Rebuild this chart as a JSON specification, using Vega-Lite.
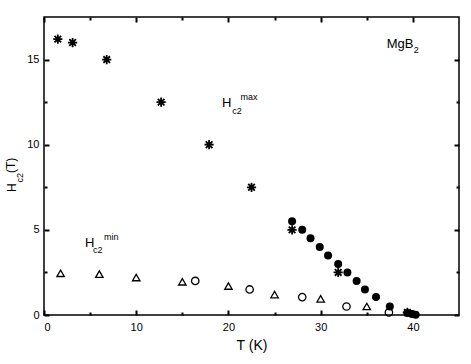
{
  "$schema": "https://vega.github.io/schema/vega-lite/v6.json",
  "width": 415,
  "height": 298,
  "autosize": {"type": "none"},
  "padding": {"left": 44, "top": 17, "right": 12, "bottom": 49},
  "background": "white",
  "config": {
    "view": {"stroke": "black", "strokeWidth": 1.5},
    "font": "Liberation Sans",
    "axis": {"domain": false, "grid": false, "labelColor": "black", "labelFont": "Liberation Sans", "labelFontSize": 11, "titleColor": "black", "titleFont": "Liberation Sans", "titleFontWeight": "normal"}
  },
  "datasets": {
    "points": [
      {"series": "star", "T": 1.5, "H": 16.2},
      {"series": "star", "T": 3.1, "H": 16.0},
      {"series": "star", "T": 6.8, "H": 15.0},
      {"series": "star", "T": 12.7, "H": 12.5},
      {"series": "star", "T": 17.9, "H": 10.0},
      {"series": "star", "T": 22.5, "H": 7.5},
      {"series": "star", "T": 26.9, "H": 5.0},
      {"series": "star", "T": 31.9, "H": 2.5},
      {"series": "star", "T": 39.4, "H": 0.15},
      {"series": "filled", "T": 26.9, "H": 5.5},
      {"series": "filled", "T": 28.0, "H": 5.0},
      {"series": "filled", "T": 28.9, "H": 4.5},
      {"series": "filled", "T": 29.9, "H": 4.0},
      {"series": "filled", "T": 30.8, "H": 3.5},
      {"series": "filled", "T": 31.9, "H": 3.0},
      {"series": "filled", "T": 32.9, "H": 2.5},
      {"series": "filled", "T": 33.9, "H": 2.0},
      {"series": "filled", "T": 34.8, "H": 1.5},
      {"series": "filled", "T": 36.0, "H": 1.05},
      {"series": "filled", "T": 37.5, "H": 0.5},
      {"series": "filled", "T": 39.4, "H": 0.12},
      {"series": "filled", "T": 39.9, "H": 0.06},
      {"series": "filled", "T": 40.3, "H": 0.02},
      {"series": "open", "T": 16.4, "H": 2.0},
      {"series": "open", "T": 22.3, "H": 1.5},
      {"series": "open", "T": 28.0, "H": 1.05},
      {"series": "open", "T": 32.8, "H": 0.5},
      {"series": "open", "T": 37.4, "H": 0.15},
      {"series": "triangle", "T": 1.8, "H": 2.45},
      {"series": "triangle", "T": 6.0, "H": 2.4},
      {"series": "triangle", "T": 10.0, "H": 2.2},
      {"series": "triangle", "T": 15.0, "H": 1.95},
      {"series": "triangle", "T": 20.0, "H": 1.7},
      {"series": "triangle", "T": 25.0, "H": 1.2},
      {"series": "triangle", "T": 30.0, "H": 0.95},
      {"series": "triangle", "T": 35.0, "H": 0.5}
    ],
    "bigText": [
      {"T": 19.3, "H": 12.19, "label": "H"},
      {"T": 4.44, "H": 3.98, "label": "H"},
      {"T": 37.16, "H": 15.7, "label": "MgB"}
    ],
    "smallText": [
      {"T": 20.4, "H": 11.83, "label": "c2"},
      {"T": 21.3, "H": 12.6, "label": "max"},
      {"T": 5.3, "H": 3.63, "label": "c2"},
      {"T": 6.5, "H": 4.39, "label": "min"},
      {"T": 40.1, "H": 15.4, "label": "2"}
    ],
    "bigRot": [
      {"T": -3.04, "H": 7.22, "label": "H"},
      {"T": -3.14, "H": 8.34, "label": "(T)"}
    ],
    "smallRot": [
      {"T": -2.33, "H": 7.78, "label": "c2"}
    ]
  },
  "resolve": {"axis": {"x": "independent", "y": "independent"}},
  "layer": [
    {
      "data": {"name": "points"},
      "transform": [{"filter": "datum.series === 'triangle'"}],
      "mark": {"type": "point", "shape": "triangle-up", "filled": false, "stroke": "black", "strokeWidth": 1.3, "size": 55, "opacity": 1},
      "encoding": {
        "x": {"field": "T", "type": "quantitative", "scale": {"domain": [0, 45], "nice": false, "zero": false},
          "axis": {"orient": "bottom", "title": "T (K)", "titleFontSize": 14, "titlePadding": 6,
            "values": [0, 10, 20, 30, 40], "labelPadding": 11,
            "tickSize": -5, "tickColor": "black", "tickWidth": 2}},
        "y": {"field": "H", "type": "quantitative", "scale": {"domain": [0, 17.5], "nice": false, "zero": false},
          "axis": {"orient": "left", "title": null,
            "values": [0, 5, 10, 15], "labelPadding": 10,
            "tickSize": -5, "tickColor": "black", "tickWidth": 2}}
      }
    },
    {
      "data": {"name": "points"},
      "transform": [{"filter": "datum.series === 'open'"}],
      "mark": {"type": "point", "shape": "circle", "filled": false, "stroke": "black", "strokeWidth": 1.3, "size": 55, "opacity": 1},
      "encoding": {
        "x": {"field": "T", "type": "quantitative",
          "axis": {"orient": "top", "title": null, "labels": false,
            "values": [0, 10, 20, 30, 40],
            "tickSize": -5, "tickColor": "black", "tickWidth": 2}},
        "y": {"field": "H", "type": "quantitative",
          "axis": {"orient": "right", "title": null, "labels": false,
            "values": [0, 5, 10, 15],
            "tickSize": -5, "tickColor": "black", "tickWidth": 2}}
      }
    },
    {
      "data": {"name": "points"},
      "transform": [{"filter": "datum.series === 'star'"}],
      "mark": {"type": "point", "shape": "M-1,0L1,0M0,-1L0,1M-0.72,-0.72L0.72,0.72M-0.72,0.72L0.72,-0.72", "filled": false, "stroke": "black", "strokeWidth": 1.8, "size": 85, "opacity": 1},
      "encoding": {
        "x": {"field": "T", "type": "quantitative",
          "axis": {"orient": "bottom", "title": null, "labels": false,
            "values": [5, 15, 25, 35],
            "tickSize": -3, "tickColor": "black", "tickWidth": 2}},
        "y": {"field": "H", "type": "quantitative",
          "axis": {"orient": "left", "title": null, "labels": false,
            "values": [2.5, 7.5, 12.5],
            "tickSize": -3, "tickColor": "black", "tickWidth": 2}}
      }
    },
    {
      "data": {"name": "points"},
      "transform": [{"filter": "datum.series === 'filled'"}],
      "mark": {"type": "point", "shape": "circle", "filled": true, "fill": "black", "size": 64, "opacity": 1},
      "encoding": {
        "x": {"field": "T", "type": "quantitative",
          "axis": {"orient": "top", "title": null, "labels": false,
            "values": [5, 15, 25, 35],
            "tickSize": -3, "tickColor": "black", "tickWidth": 2}},
        "y": {"field": "H", "type": "quantitative",
          "axis": {"orient": "right", "title": null, "labels": false,
            "values": [2.5, 7.5, 12.5],
            "tickSize": -3, "tickColor": "black", "tickWidth": 2}}
      }
    },
    {
      "data": {"name": "bigText"},
      "mark": {"type": "text", "fontSize": 13, "align": "left", "baseline": "alphabetic", "fill": "black", "font": "Liberation Sans"},
      "encoding": {
        "x": {"field": "T", "type": "quantitative", "axis": null},
        "y": {"field": "H", "type": "quantitative", "axis": null},
        "text": {"field": "label"}
      }
    },
    {
      "data": {"name": "smallText"},
      "mark": {"type": "text", "fontSize": 9, "align": "left", "baseline": "alphabetic", "fill": "black", "font": "Liberation Sans"},
      "encoding": {
        "x": {"field": "T", "type": "quantitative", "axis": null},
        "y": {"field": "H", "type": "quantitative", "axis": null},
        "text": {"field": "label"}
      }
    },
    {
      "data": {"name": "bigRot"},
      "mark": {"type": "text", "fontSize": 12, "angle": 270, "align": "left", "baseline": "alphabetic", "fill": "black", "font": "Liberation Sans"},
      "encoding": {
        "x": {"field": "T", "type": "quantitative", "axis": null},
        "y": {"field": "H", "type": "quantitative", "axis": null},
        "text": {"field": "label"}
      }
    },
    {
      "data": {"name": "smallRot"},
      "mark": {"type": "text", "fontSize": 9, "angle": 270, "align": "left", "baseline": "alphabetic", "fill": "black", "font": "Liberation Sans"},
      "encoding": {
        "x": {"field": "T", "type": "quantitative", "axis": null},
        "y": {"field": "H", "type": "quantitative", "axis": null},
        "text": {"field": "label"}
      }
    }
  ]
}
